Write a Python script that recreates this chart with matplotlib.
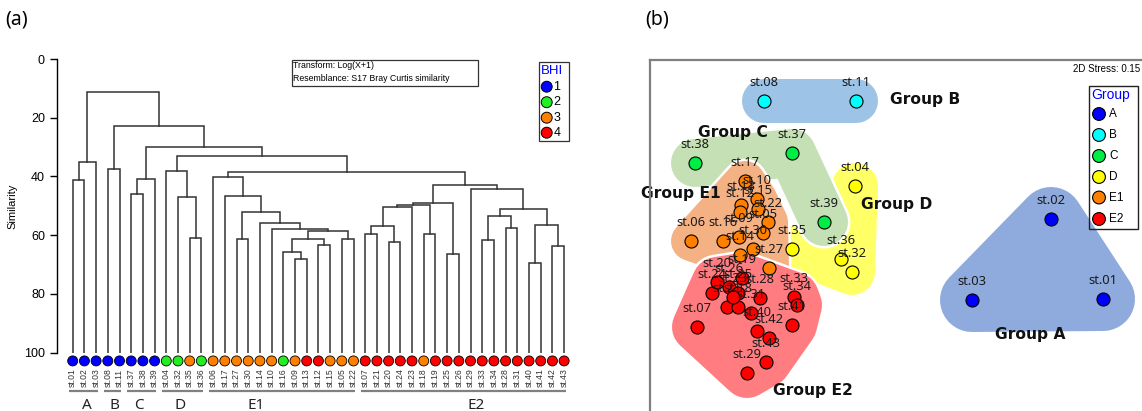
import numpy as np
import matplotlib.pyplot as plt
from matplotlib.patches import Polygon, Rectangle

# ---- dendrogram data (panel a) ----
leaves = ['st.01', 'st.02', 'st.03', 'st.08', 'st.11', 'st.37', 'st.38', 'st.39',
          'st.04', 'st.32', 'st.35', 'st.36', 'st.06', 'st.17', 'st.27', 'st.30',
          'st.14', 'st.10', 'st.16', 'st.09', 'st.13', 'st.12', 'st.15', 'st.05',
          'st.22', 'st.07', 'st.21', 'st.20', 'st.24', 'st.23', 'st.18', 'st.19',
          'st.25', 'st.26', 'st.29', 'st.33', 'st.34', 'st.28', 'st.31', 'st.40',
          'st.41', 'st.42', 'st.43']
bhi = [1, 1, 1, 1, 1, 1, 1, 1,
       2, 2, 3, 2, 3, 3, 3, 3,
       3, 3, 2, 3, 4, 4, 3, 3,
       3, 4, 4, 4, 4, 4, 3, 4,
       4, 4, 4, 4, 4, 4, 4, 4,
       4, 4, 4]

# merges: (left, right, similarity); nodes are named n0, n1, ...
merges = [
    ('st.01', 'st.02', 41.1), ('n0', 'st.03', 35.0),
    ('st.08', 'st.11', 37.3),
    ('st.37', 'st.38', 45.9), ('n3', 'st.39', 40.9),
    ('st.35', 'st.36', 61.1), ('st.32', 'n5', 46.9), ('st.04', 'n6', 38.2),
    ('st.27', 'st.30', 61.4), ('st.09', 'st.13', 68.1), ('st.16', 'n9', 65.7),
    ('st.12', 'st.15', 63.2), ('n10', 'n11', 61.4), ('st.05', 'st.22', 61.4),
    ('n12', 'n13', 58.6), ('st.10', 'n14', 57.8), ('st.14', 'n15', 56.0),
    ('n8', 'n16', 52.1), ('st.17', 'n17', 46.7), ('st.06', 'n18', 40.2),
    ('st.07', 'st.21', 59.7), ('st.20', 'st.24', 62.2), ('n20', 'n21', 56.9),
    ('n22', 'st.23', 50.3), ('st.18', 'st.19', 59.6), ('n23', 'n24', 49.7),
    ('st.25', 'st.26', 66.5), ('n25', 'n26', 49.1),
    ('st.33', 'st.34', 61.7), ('st.28', 'st.31', 57.7), ('n28', 'n29', 53.4),
    ('st.40', 'st.41', 69.6), ('st.42', 'st.43', 63.6), ('n31', 'n32', 56.6),
    ('n30', 'n33', 51.0), ('st.29', 'n34', 44.3), ('n27', 'n35', 42.9),
    ('n19', 'n36', 38.4), ('n7', 'n37', 33.1), ('n4', 'n38', 30.0),
    ('n2', 'n39', 22.7), ('n1', 'n40', 11.1),
]

clusters = ['A', 'B', 'C', 'D', 'E1', 'E2']
cluster_first = ['st.01', 'st.08', 'st.37', 'st.04', 'st.06', 'st.07']
cluster_last = ['st.03', 'st.11', 'st.39', 'st.36', 'st.22', 'st.43']

# ---- nMDS data (panel b) ----
stations = ['st.01', 'st.02', 'st.03',
            'st.08', 'st.11',
            'st.37', 'st.38', 'st.39',
            'st.04', 'st.35', 'st.36', 'st.32',
            'st.06', 'st.17', 'st.10', 'st.13', 'st.12', 'st.22', 'st.05',
            'st.16', 'st.09', 'st.30', 'st.14', 'st.15', 'st.27',
            'st.07', 'st.24', 'st.20', 'st.26', 'st.19', 'st.25', 'st.21',
            'st.18', 'st.23', 'st.31', 'st.28', 'st.40', 'st.42', 'st.41',
            'st.33', 'st.34', 'st.43', 'st.29']
mds1 = [2.23, 1.71, 0.92,
        -1.16, -0.24,
        -0.88, -1.85, -0.56,
        -0.25, -0.88, -0.39, -0.28,
        -1.89, -1.35, -1.23, -1.39, -1.40, -1.12, -1.17,
        -1.57, -1.41, -1.27, -1.40, -1.22, -1.11,
        -1.83, -1.68, -1.63, -1.51, -1.38, -1.42, -1.53,
        -1.42, -1.47, -1.29, -1.20, -1.23, -1.11, -0.88,
        -0.86, -0.83, -1.14, -1.33]
mds2 = [-0.59, 0.21, -0.60,
        1.39, 1.39,
        0.87, 0.77, 0.18,
        0.54, -0.09, -0.19, -0.32,
        -0.01, 0.59, 0.41, 0.35, 0.28, 0.18, 0.07,
        -0.01, 0.03, -0.09, -0.15, 0.31, -0.28,
        -0.87, -0.53, -0.42, -0.47, -0.38, -0.53, -0.67,
        -0.67, -0.57, -0.73, -0.58, -0.91, -0.98, -0.85,
        -0.57, -0.65, -1.22, -1.33]
group = ['A'] * 3 + ['B'] * 2 + ['C'] * 3 + ['D'] * 4 + ['E1'] * 13 + ['E2'] * 18
stress = 0.15

# ---- styles ----
bhi_colors = {1: '#0000FF', 2: '#22EE22', 3: '#FF8000', 4: '#FF0000'}
pt_colors = {'A': '#0000FF', 'B': '#00FFFF', 'C': '#00EE44', 'D': '#FFFF00',
             'E1': '#FF8000', 'E2': '#FF0000'}
hull_colors = {'A': '#8FAADC', 'B': '#9DC3E6', 'C': '#C5E0B4', 'D': '#FFFF66',
               'E1': '#F4B183', 'E2': '#FF7C80'}
hull_buf = {'A': 32, 'B': 22, 'C': 24, 'D': 23, 'E1': 20, 'E2': 25}  # px
hull_path = {'B': ['st.08', 'st.11'], 'C': ['st.38', 'st.37', 'st.39'],
             'D': ['st.04', 'st.32', 'st.35']}
group_label_pos = {'A': (1.50, -0.95), 'B': (0.45, 1.41), 'C': (-1.47, 1.08),
                   'D': (0.17, 0.36), 'E1': (-1.99, 0.47), 'E2': (-0.67, -1.50)}
cluster_letter_x = [1.2, 3.6, 5.7, 9.2, 15.7, 34.5]

W, H = 1142, 411
fig = plt.figure(figsize=(W / 100, H / 100), dpi=100)


def fx(px):
    return px / W


def fy(py):
    return 1 - py / H


ARIAL = 'Liberation Sans'
NOTO = 'Noto Sans'

# ================= panel (a) =================
ax1 = fig.add_axes([fx(56.7), fy(352.7), (575 - 56.7) / W, (352.7 - 59) / H])
ax1.set_xlim(-1.3675, 42.93)
ax1.set_ylim(100, 0)
for s in ['top', 'right', 'bottom']:
    ax1.spines[s].set_visible(False)
ax1.spines['left'].set_linewidth(1.0)
ax1.set_xticks([])
ax1.set_yticks([0, 20, 40, 60, 80, 100])
ax1.tick_params(axis='y', direction='out', length=5, width=1, labelsize=9)
for lab in ax1.get_yticklabels():
    lab.set_family(ARIAL)
ax1.set_ylabel('Similarity', fontsize=8, family=ARIAL, labelpad=8)
ax1.yaxis.set_label_coords(-0.075, 0.5)

pos = {name: (i, 100.0) for i, name in enumerate(leaves)}
for k, (a, b, h) in enumerate(merges):
    xa, ha = pos[a]
    xb, hb = pos[b]
    ax1.plot([xa, xa, xb, xb], [ha, h, h, hb], color='#333333', lw=1.1,
             solid_joinstyle='miter')
    pos['n%d' % k] = ((xa + xb) / 2, h)

idx = np.arange(len(leaves))
ax1.scatter(idx, [102.8] * len(leaves), s=52, c=[bhi_colors[v] for v in bhi],
            edgecolors='black', linewidths=0.6, clip_on=False, zorder=3)
for i, name in enumerate(leaves):
    ax1.text(i, 105.4, name, rotation=90, ha='center', va='top', fontsize=6.2,
             color='#333333', family=ARIAL, clip_on=False)

for c, f, l, lx in zip(clusters, cluster_first, cluster_last, cluster_letter_x):
    i0, i1 = leaves.index(f), leaves.index(l)
    ax1.plot([i0 - 0.35, i1 + 0.15], [112.9, 112.9], color='#808080', lw=1.6,
             clip_on=False, solid_capstyle='butt')
    ax1.text(lx, 117.9, c, ha='center', va='center', fontsize=11,
             family=NOTO, color='#222222', clip_on=False)

# resemblance box
fig.add_artist(Rectangle((fx(291.7), fy(86)), (477.7 - 291.7) / W, 26 / H,
                         transform=fig.transFigure, fill=False,
                         ec='#333333', lw=0.9))
fig.text(fx(293.5), fy(66), 'Transform: Log(X+1)', fontsize=6.3,
         family=ARIAL, va='center')
fig.text(fx(293.5), fy(78.5), 'Resemblance: S17 Bray Curtis similarity',
         fontsize=6.3, family=ARIAL, va='center')

# BHI legend
fig.add_artist(Rectangle((fx(539), fy(141)), (568.7 - 539) / W, (141 - 61.7) / H,
                         transform=fig.transFigure, fill=False,
                         ec='#333333', lw=0.9))
fig.text(fx(541), fy(70.5), 'BHI', color='#0000FF', fontsize=9.5,
         family=ARIAL, va='center')
bhi_keys = [1, 2, 3, 4]
ly = [86.7, 102.2, 117.7, 132.7]
ax1.scatter([fx(546.7)] * 4, [fy(v) for v in ly], s=62,
            c=[bhi_colors[k] for k in bhi_keys], edgecolors='black',
            linewidths=0.7, transform=fig.transFigure, clip_on=False, zorder=5)
for k, yv in zip(bhi_keys, ly):
    fig.text(fx(553.5), fy(yv), str(k), fontsize=9, family=ARIAL, va='center')

fig.text(fx(5), fy(20), '(a)', fontsize=14, family=NOTO, va='center')
fig.text(fx(645), fy(20), '(b)', fontsize=14, family=NOTO, va='center')

# ================= panel (b) =================
ax2 = fig.add_axes([fx(650), fy(421), 500 / W, 361 / H])
ax2.set_xlim(-2.3, 2.7)
ax2.set_ylim(-1.81, 1.80)
ax2.set_xticks([])
ax2.set_yticks([])
for s in ax2.spines.values():
    s.set_color('#7F7F7F')
    s.set_linewidth(1.6)
    s.set_zorder(10)

xs = np.array(mds1)
ys = np.array(mds2)
grp = np.array(group)


def convex_hull(pts):
    pts = sorted(map(tuple, pts))
    def cross(o, a, b):
        return (a[0] - o[0]) * (b[1] - o[1]) - (a[1] - o[1]) * (b[0] - o[0])
    lower, upper = [], []
    for p in pts:
        while len(lower) >= 2 and cross(lower[-2], lower[-1], p) <= 0:
            lower.pop()
        lower.append(p)
    for p in reversed(pts):
        while len(upper) >= 2 and cross(upper[-2], upper[-1], p) <= 0:
            upper.pop()
        upper.append(p)
    return np.array(lower[:-1] + upper[:-1])


def draw_blob(g, color, buf, z):
    lw = 2 * buf * 0.72
    if g in hull_path:
        ii = [stations.index(n) for n in hull_path[g]]
        ax2.plot(xs[ii], ys[ii], color=color, lw=lw, solid_capstyle='round',
                 solid_joinstyle='round', zorder=z)
    else:
        m = grp == g
        hull = convex_hull(np.column_stack([xs[m], ys[m]]))
        ax2.add_patch(Polygon(hull, closed=True, fc=color, ec=color, lw=lw,
                              joinstyle='round', zorder=z))


order = ['A', 'B', 'D', 'C', 'E1', 'E2']
for k, g in enumerate(order):
    draw_blob(g, 'white', hull_buf[g] + 2.5, 1 + k * 0.1)
    draw_blob(g, hull_colors[g], hull_buf[g], 1.05 + k * 0.1)

for g in ['A', 'B', 'C', 'D', 'E1', 'E2']:
    m = grp == g
    ax2.scatter(xs[m], ys[m], s=88, c=pt_colors[g], edgecolors='black',
                linewidths=0.8, zorder=3)

for name, x, y in zip(stations, xs, ys):
    ax2.annotate(name, (x, y), xytext=(0, 13), textcoords='offset points',
                 ha='center', va='center', fontsize=9.3, family=NOTO,
                 color='#1A1A1A', zorder=4)

for g, (gx, gy) in group_label_pos.items():
    ax2.text(gx, gy, 'Group ' + g, ha='center', va='center', fontsize=11.2,
             fontweight='bold', family='DejaVu Sans', color='#111111', zorder=5)

fig.text(fx(1140), fy(69), '2D Stress: %.2f' % stress, ha='right', va='center',
         fontsize=7, family=ARIAL)

# Group legend
fig.add_artist(Rectangle((fx(1089.3), fy(229.3)), (1137.7 - 1089.3) / W,
                         (229.3 - 85.7) / H, transform=fig.transFigure,
                         fill=False, ec='#222222', lw=1.0, zorder=11))
fig.text(fx(1091.5), fy(95.5), 'Group', color='#0000FF', fontsize=10,
         family=ARIAL, va='center')
gy_leg = [114, 135, 156, 177, 197.5, 219]
leg_groups = ['A', 'B', 'C', 'D', 'E1', 'E2']
ax2.scatter([fx(1099)] * 6, [fy(v) for v in gy_leg], s=85,
            c=[pt_colors[g] for g in leg_groups], edgecolors='black',
            linewidths=0.8, transform=fig.transFigure, clip_on=False, zorder=12)
for g, yv in zip(leg_groups, gy_leg):
    fig.text(fx(1109), fy(yv), g, fontsize=8.5, family=ARIAL, va='center')

fig.savefig('out.png', dpi=100)
